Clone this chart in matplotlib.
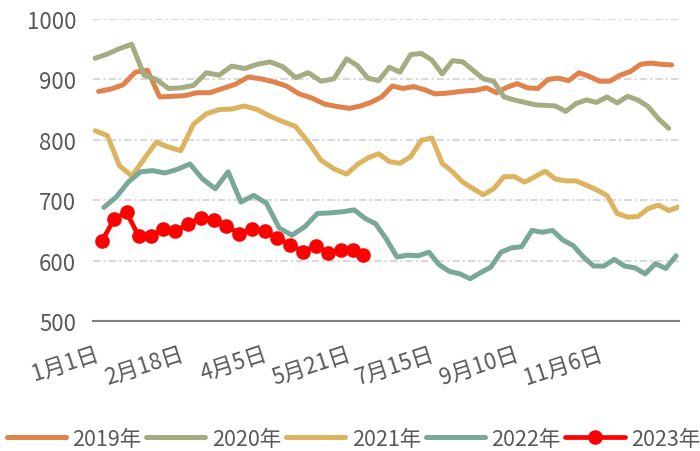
import numpy as np
import matplotlib
matplotlib.use("Agg")
import matplotlib.pyplot as plt

plt.rcParams['font.family'] = ['Noto Sans CJK SC', 'DejaVu Sans']

# weekly prices, one point per week
y2019 = [880, 884, 891, 912, 915, 871, 872, 873, 878, 878, 885, 892, 904, 901, 896, 889,
         876, 869, 859, 855, 852, 856, 862, 871, 889, 885, 888, 883, 876, 877, 879, 881,
         882, 886, 878, 887, 893, 886, 885, 900, 902, 898, 911, 905, 897, 897, 907, 913,
         925, 927, 925, 924]
y2020 = [935, 942, 951, 958, 907, 900, 885, 886, 890, 911, 907, 922, 918, 925, 929, 921,
         903, 911, 897, 901, 934, 923, 902, 898, 920, 912, 941, 943, 932, 909, 931, 929,
         915, 901, 897, 871, 866, 862, 858, 857, 856, 847, 860, 866, 862, 871, 861, 872,
         866, 855, 835, 819]
y2021 = [815, 807, 757, 740, 768, 796, 788, 782, 826, 843, 850, 851, 856, 850, 839, 830,
         822, 796, 766, 752, 743, 759, 770, 777, 764, 761, 772, 799, 803, 761, 747, 730,
         719, 709, 719, 739, 739, 730, 739, 748, 735, 732, 732, 725, 717, 708, 678, 672,
         673, 686, 692, 683, 689]
y2022 = [688, 705, 730, 747, 749, 745, 751, 760, 735, 719, 747, 697, 708, 695, 654, 642,
         656, 678, 679, 681, 684, 670, 661, 636, 606, 609, 608, 614, 593, 582, 578, 570,
         580, 589, 614, 621, 623, 650, 647, 650, 634, 625, 606, 591, 591, 602, 591, 588,
         578, 595, 587, 608]
y2023 = [633, 669, 680, 640, 641, 652, 649, 660, 671, 668, 658, 644, 653, 649, 638, 626,
         615, 624, 613, 617, 618, 610]

years = ['2019年', '2020年', '2021年', '2022年', '2023年']
series = [y2019, y2020, y2021, y2022, y2023]
start_day = [2, 0, 0, 5, 4]          # day of year of the first weekly point
colors = ['#E1814B', '#A4AC82', '#DCB35F', '#79A89A', '#FF0000']

tick_days = [0, 48, 94, 140, 195, 252, 309]
tick_labels = ['1月1日', '2月18日', '4月5日', '5月21日', '7月15日', '9月10日', '11月6日']

# category-like axis: tick labels sit at equal distances
_d = np.array([-48] + tick_days + [366], dtype=float)
_p = np.arange(-1, len(tick_days) + 1, dtype=float)


def fwd(x):
    return np.interp(x, _d, _p)


def inv(p):
    return np.interp(p, _p, _d)


fig = plt.figure(figsize=(7, 4.52), dpi=100)
ax = fig.add_axes([93 / 700, 1 - 322 / 452, 586 / 700, 302 / 452])
ax.set_xscale('function', functions=(fwd, inv))

for name, vals, d0, c in zip(years, series, start_day, colors):
    days = d0 + 7 * np.arange(len(vals))
    if name == '2023年':
        ax.plot(days, vals, color=c, lw=3.4, marker='o', ms=9.5, label=name,
                solid_capstyle='round', solid_joinstyle='round', zorder=5)
    else:
        ax.plot(days, vals, color=c, lw=3.6, label=name,
                solid_capstyle='round', solid_joinstyle='round')

ax.set_xlim(-1.2, 364)
ax.set_ylim(500, 1000)
ax.set_yticks(range(500, 1001, 100))
ax.set_xticks(tick_days)
ax.set_xticklabels(tick_labels, rotation=18, ha='right', rotation_mode='anchor')

for v in range(600, 1001, 100):
    ax.axhline(v, color='#D9D9D9', lw=1.5, dashes=[3.5, 1.5, 1, 1.5], zorder=0)

for s in ['top', 'right', 'left']:
    ax.spines[s].set_visible(False)
ax.spines['bottom'].set_color('#7F7F7F')
ax.spines['bottom'].set_linewidth(1.5)
ax.spines['bottom'].set_zorder(1)

ax.tick_params(axis='y', length=0, pad=12, labelsize=16, labelcolor='#595959')
ax.tick_params(axis='x', length=0, pad=15, labelsize=16, labelcolor='#595959')

leg = fig.legend(loc='center', bbox_to_anchor=(0.505, 1 - 440 / 452), ncol=5, frameon=False,
                 fontsize=15.5, handlelength=2.75, handletextpad=0.3, columnspacing=0.22,
                 borderaxespad=0, borderpad=0)
for t in leg.get_texts():
    t.set_color('#595959')

fig.savefig('out.png', dpi=100)
